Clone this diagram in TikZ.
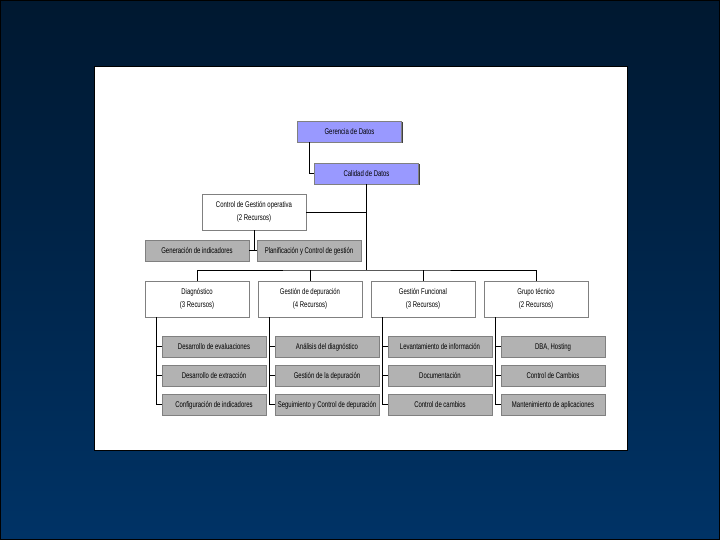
\documentclass[tikz,border=0pt]{standalone}
\usepackage{fontspec}
\setmainfont{Liberation Sans}[FakeStretch=0.72]
\usetikzlibrary{shadows,calc}
\definecolor{fondoarriba}{RGB}{0,24,48}
\definecolor{fondoabajo}{RGB}{0,51,102}
\definecolor{lila}{RGB}{153,153,255}
\definecolor{gris}{RGB}{178,178,178}
\tikzset{
  caja/.style={draw=black!50, line width=0.8pt, minimum width=104pt, inner sep=1pt,
    align=center, font=\fontsize{8.3}{12.5}\selectfont,
    drop shadow={shadow xshift=1.2pt, shadow yshift=-1.2pt, opacity=1, fill=black!75}},
  jefe/.style={caja, fill=lila, minimum height=21pt, text height=6.8pt, text depth=1pt},
  area/.style={caja, fill=white, minimum height=36pt},
  tarea/.style={caja, fill=gris, minimum height=21pt, text height=6.8pt, text depth=1pt},
  linea/.style={line width=0.8pt}
}
\begin{document}
\begin{tikzpicture}[x=1pt,y=-1pt]
    \useasboundingbox (0,0) rectangle (720,540);
    \shade[top color=fondoarriba, bottom color=fondoabajo] (0,0) rectangle (720,540);
    \draw[black] (0.5,0.5) rectangle (719.5,539.5);
    \draw[fill=white, line width=1pt] (94,67) rectangle (627,450);
    % direccion
    \node[jefe] (gerencia) at (349.5,131.5) {Gerencia de Datos};
    \node[jefe] (calidad) at (366.5,173.5) {Calidad de Datos};
    \node[area] (control) at (254,212) {Control de Gestión operativa\\(2 Recursos)};
    \node[tarea] (generacion) at (197,250.5) {Generación de indicadores};
    \node[tarea] (planif) at (309,250.5) {Planificación y Control de gestión};
    \coordinate (bus) at (366.5,270);
    % areas
    \node[area] (diag) at (197,299) {Diagnóstico\\(3 Recursos)};
    \node[area] (depur) at (310,299) {Gestión de depuración\\(4 Recursos)};
    \node[area] (func) at (423,299) {Gestión Funcional\\(3 Recursos)};
    \node[area] (grupo) at (536,299) {Grupo técnico\\(2 Recursos)};
    % tareas
    \node[tarea] (diag1) at (214,346.5) {Desarrollo de evaluaciones};
    \node[tarea] (diag2) at (214,375.5) {Desarrollo de extracción};
    \node[tarea] (diag3) at (214,404.5) {Configuración de indicadores};
    \node[tarea] (depur1) at (327,346.5) {Análisis del diagnóstico};
    \node[tarea] (depur2) at (327,375.5) {Gestión de la depuración};
    \node[tarea] (depur3) at (327,404.5) {Seguimiento y Control de depuración};
    \node[tarea] (func1) at (440,346.5) {Levantamiento de información};
    \node[tarea] (func2) at (440,375.5) {Documentación};
    \node[tarea] (func3) at (440,404.5) {Control de cambios};
    \node[tarea] (grupo1) at (553,346.5) {DBA, Hosting};
    \node[tarea] (grupo2) at (553,375.5) {Control de Cambios};
    \node[tarea] (grupo3) at (553,404.5) {Mantenimiento de aplicaciones};
    % conectores
    \draw[linea] ([xshift=12pt]gerencia.south west) |- (calidad.west);
    \draw[linea] (calidad.south) -- (bus);
    \draw[linea] (control.east) -- (control.east -| calidad.south);
    \draw[linea] (control.south) -- (control.south |- generacion.east);
    \draw[linea] (generacion.east) -- (planif.west);
    \draw[linea] (diag.north) |- (bus) -| (grupo.north);
    \draw[linea] (depur.north) -- (depur.north |- bus);
    \draw[linea] (func.north) -- (func.north |- bus);
    \foreach \c in {diag,depur,func,grupo} {
        \coordinate (\c-eje) at ([xshift=12pt]\c.south west);
        \draw[linea] (\c-eje) |- (\c3.west);
        \draw[linea] (\c1.west) -- (\c1.west -| \c-eje);
        \draw[linea] (\c2.west) -- (\c2.west -| \c-eje);
    }
\end{tikzpicture}
\end{document}
